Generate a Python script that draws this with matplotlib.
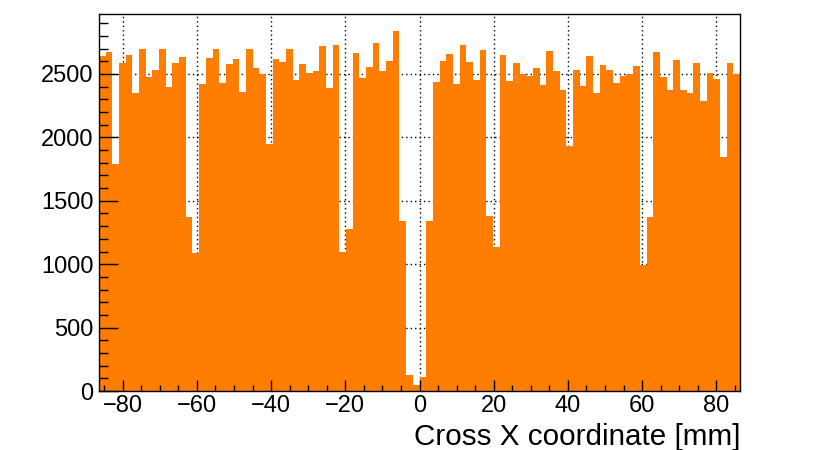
import numpy as np
import matplotlib
matplotlib.use('Agg')
import matplotlib.pyplot as plt
from matplotlib.ticker import MultipleLocator

# Histogram: 96 bins of 1.8 mm from -86.4 to 86.4 mm
x_min, x_max, n_bins = -86.4, 86.4, 96
counts = [
    2645, 2676, 1790, 2587, 2647, 2353, 2697, 2474, 2532, 2697, 2397, 2587, 2631, 1375, 1091, 2418,
    2624, 2697, 2429, 2579, 2616, 2355, 2694, 2547, 2497, 1946, 2616, 2595, 2694, 2450, 2576, 2508,
    2526, 2721, 2387, 2729, 1093, 1275, 2663, 2471, 2553, 2744, 2526, 2603, 2839, 1341, 130, 47,
    108, 1340, 2440, 2600, 2658, 2424, 2726, 2592, 2450, 2689, 1380, 1138, 2652, 2445, 2584, 2500,
    2482, 2547, 2411, 2679, 2524, 2376, 1932, 2532, 2408, 2642, 2353, 2568, 2529, 2426, 2487, 2500,
    2563, 994, 1370, 2671, 2476, 2374, 2608, 2371, 2350, 2589, 2287, 2505, 2463, 1843, 2589, 2497,
]
x_ticks = [-80, -60, -40, -20, 0, 20, 40, 60, 80]
y_ticks = [0, 500, 1000, 1500, 2000, 2500]
x_label = 'Cross X coordinate [mm]'

plt.rcParams['font.family'] = ['Liberation Sans', 'DejaVu Sans']

fig = plt.figure(figsize=(8.3, 4.5), dpi=100)
ax = fig.add_axes([99 / 830, 1 - 391 / 450, 641 / 830, 377 / 450])

edges = np.linspace(x_min, x_max, n_bins + 1)
ax.stairs(counts, edges, fill=True, color='#ff7d00', linewidth=0, zorder=1)

# dotted grid behind the histogram, ticks stay on top
for xv in x_ticks:
    ax.axvline(xv, color='black', linestyle=(0, (1, 2.2)), linewidth=1.0, zorder=0.5)
for yv in y_ticks[1:]:
    ax.axhline(yv, color='black', linestyle=(0, (1, 2.2)), linewidth=1.0, zorder=0.5)

ax.set_xlim(x_min, x_max)
ax.set_ylim(0, 2500 * 377 / 317)

ax.set_xticks(x_ticks)
ax.set_yticks(y_ticks)
ax.xaxis.set_minor_locator(MultipleLocator(5))
ax.yaxis.set_minor_locator(MultipleLocator(100))
ax.tick_params(axis='both', which='both', direction='in', top=False, right=False,
               width=1.0, labelsize=17, color='black')
ax.tick_params(axis='y', which='major', length=13.7, pad=4)
ax.tick_params(axis='y', which='minor', length=6.8)
ax.tick_params(axis='x', which='major', length=7.9, pad=3)
ax.tick_params(axis='x', which='minor', length=4.0)

for sp in ax.spines.values():
    sp.set_linewidth(1.0)
    sp.set_zorder(3)

ax.set_xlabel(x_label, fontsize=21.3, loc='right', labelpad=4)

fig.savefig('out.png', dpi=100)
